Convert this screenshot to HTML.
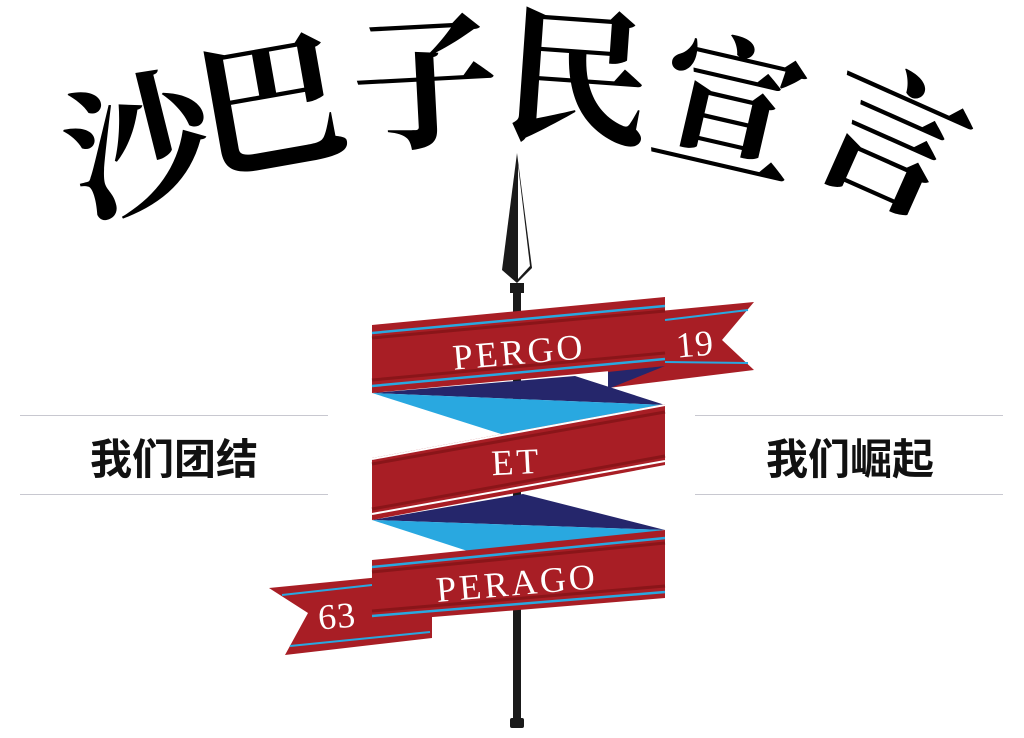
<!DOCTYPE html>
<html><head><meta charset="utf-8"><style>
html,body{margin:0;padding:0;background:#fff;width:1024px;height:738px;overflow:hidden}
svg{display:block}
.t{font-family:"Noto Serif CJK SC","Liberation Serif",serif;font-weight:700;font-size:148px;fill:#000}
.s{font-family:"Liberation Sans","Noto Sans CJK SC",sans-serif;font-weight:bold;font-size:42px;fill:#111}
.r{font-family:"Liberation Serif",serif;fill:#fff;font-size:36px;letter-spacing:3px}
</style></head><body>
<svg width="1024" height="738" viewBox="0 0 1024 738">
<g class="t" text-anchor="middle">
<text transform="translate(152,198) rotate(-14)">沙</text>
<text transform="translate(280,158) rotate(-10)">巴</text>
<text transform="translate(428,136) rotate(-3)">子</text>
<text transform="translate(574,132) rotate(4)">民</text>
<text transform="translate(718,160) rotate(13)">宣</text>
<text transform="translate(870,190) rotate(24)">言</text>
</g>
<line x1="20" y1="415.5" x2="328" y2="415.5" stroke="#c8c8d0" stroke-width="1"/>
<line x1="20" y1="494.5" x2="328" y2="494.5" stroke="#c8c8d0" stroke-width="1"/>
<line x1="695" y1="415.5" x2="1003" y2="415.5" stroke="#c8c8d0" stroke-width="1"/>
<line x1="695" y1="494.5" x2="1003" y2="494.5" stroke="#c8c8d0" stroke-width="1"/>
<text class="s" x="174" y="474" text-anchor="middle">我们团结</text>
<text class="s" x="850" y="474" text-anchor="middle">我们崛起</text>
<polygon points="517,153 532,268 517,283 502,270" fill="#1a1a1a"/>
<polygon points="518,165 530,266 518,279" fill="#fff"/>
<rect x="510" y="283" width="14" height="10" fill="#1a1a1a"/>
<rect x="513" y="290" width="8" height="432" fill="#1a1a1a"/>
<rect x="510" y="718" width="14" height="10" rx="2" fill="#1a1a1a"/>
<polygon points="608,316 754,302 722,340 754,370 608,388" fill="#a81e25"/>
<polygon points="608,372 665,366 608,389" fill="#25266b"/>
<line x1="665" y1="320" x2="748" y2="310" stroke="#29a8e0" stroke-width="2"/>
<line x1="665" y1="362" x2="748" y2="363" stroke="#29a8e0" stroke-width="2"/>
<polygon points="372,393 575,376 665,405" fill="#25266b"/>
<polygon points="372,393 665,405 520,440" fill="#29a8e0"/>
<polygon points="372,325 665,297 665,366 372,393" fill="#a81e25"/>
<line x1="372" y1="333" x2="665" y2="306" stroke="#29a8e0" stroke-width="2.5"/>
<line x1="372" y1="338" x2="665" y2="311" stroke="#8a1519" stroke-width="3"/>
<line x1="372" y1="380" x2="665" y2="353" stroke="#8a1519" stroke-width="3"/>
<line x1="372" y1="386" x2="665" y2="359" stroke="#29a8e0" stroke-width="2.5"/>
<polygon points="372,520 523,494 665,530" fill="#25266b"/>
<polygon points="372,520 665,530 480,555" fill="#29a8e0"/>
<polygon points="372,458 665,404 665,465 372,520" fill="#a81e25"/>
<line x1="372" y1="459" x2="665" y2="405" stroke="#fff" stroke-width="2"/>
<line x1="372" y1="464" x2="665" y2="412" stroke="#8a1519" stroke-width="3"/>
<line x1="372" y1="509" x2="665" y2="456" stroke="#8a1519" stroke-width="3"/>
<line x1="372" y1="514" x2="665" y2="461" stroke="#fff" stroke-width="2"/>
<polygon points="269,588 432,572 432,638 285,655 308,613" fill="#a81e25"/>
<line x1="282" y1="595" x2="372" y2="585" stroke="#29a8e0" stroke-width="2"/>
<line x1="290" y1="646" x2="430" y2="632" stroke="#29a8e0" stroke-width="2"/>
<polygon points="372,560 665,530 665,598 372,622" fill="#a81e25"/>
<line x1="372" y1="567" x2="665" y2="538" stroke="#29a8e0" stroke-width="2.5"/>
<line x1="372" y1="572" x2="665" y2="543" stroke="#8a1519" stroke-width="3"/>
<line x1="372" y1="611" x2="665" y2="586" stroke="#8a1519" stroke-width="3"/>
<line x1="372" y1="616" x2="665" y2="592" stroke="#29a8e0" stroke-width="2.5"/>
<text class="r" text-anchor="middle" transform="translate(520,364) rotate(-5)">PERGO</text>
<text class="r" text-anchor="middle" transform="translate(696,356) rotate(-5)" style="letter-spacing:1px">19</text>
<text class="r" text-anchor="middle" transform="translate(517,474) rotate(-3)">ET</text>
<text class="r" text-anchor="middle" transform="translate(518,595) rotate(-5)">PERAGO</text>
<text class="r" text-anchor="middle" transform="translate(338,628) rotate(-5)" style="letter-spacing:1px">63</text>
</svg>
</body></html>
